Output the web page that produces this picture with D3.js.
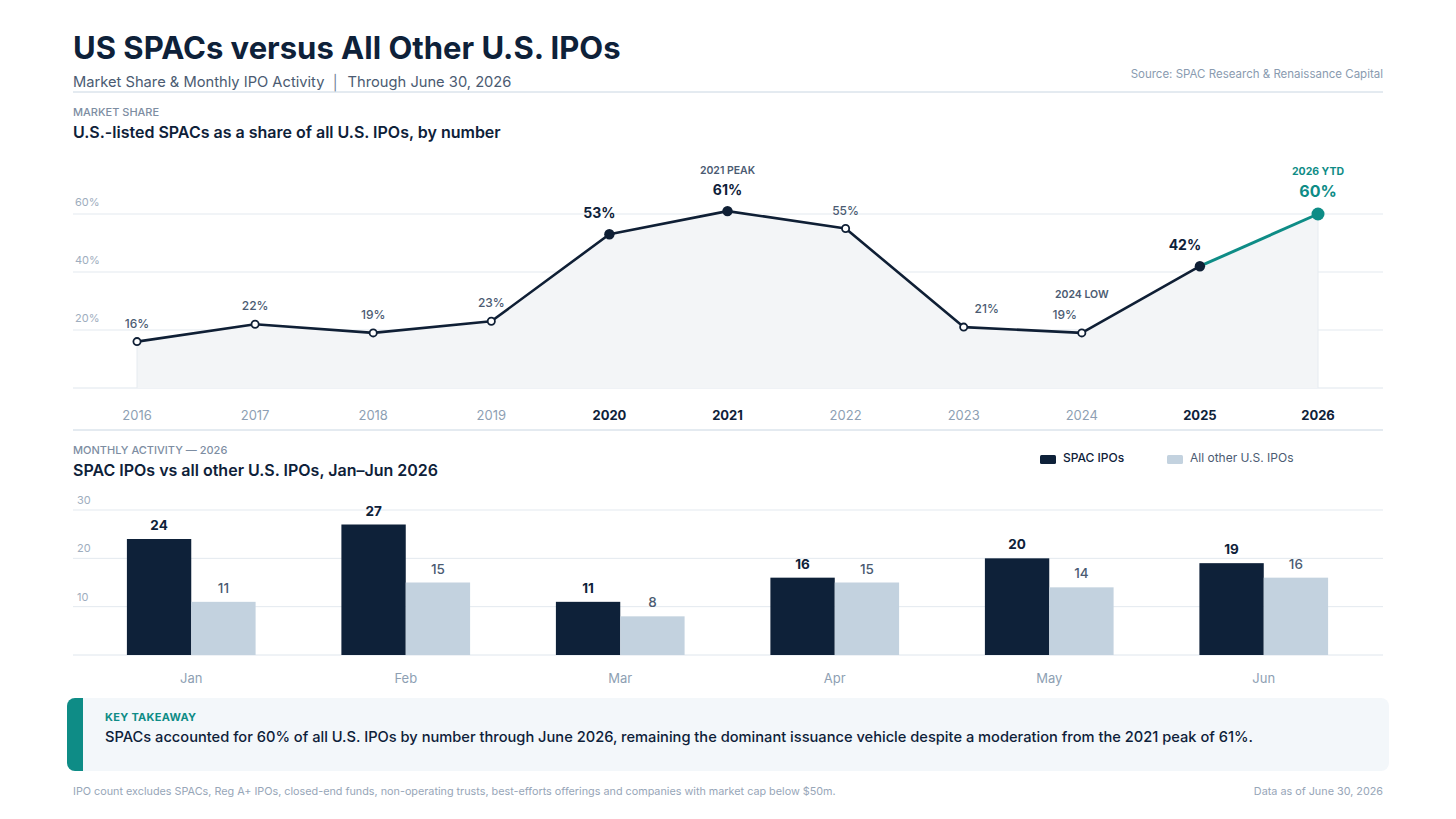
<!DOCTYPE html>
<html><head><meta charset="utf-8">
<script src="https://cdn.jsdelivr.net/npm/d3@7/dist/d3.min.js"></script>
<style>
body{margin:0;background:#fff;}
svg{display:block;font-family:Inter,"Noto Sans",sans-serif;}
</style></head>
<body><svg id="c" width="1456" height="819"></svg>
<script>
// ---- data ----
const years = ["2016","2017","2018","2019","2020","2021","2022","2023","2024","2025","2026"];
const sharePct = [16,22,19,23,53,61,55,21,19,42,60];
const highlightYears = ["2020","2021","2025","2026"];
const shareTicks = [0,20,40,60];

const months = ["Jan","Feb","Mar","Apr","May","Jun"];
const spacIPOs = [24,27,11,16,20,19];
const otherIPOs = [11,15,8,15,14,16];
const barTicks = [0,10,20,30];
const seriesNames = ["SPAC IPOs","All other U.S. IPOs"];

// label nudges (style, not data)
const labelDx = [0,0,0,0,-10,0,0,23,-17,-15,0];

const C = {navy:"#0e2139", line:"#0f1f35", light:"#c3d2df", teal:"#0e8c86",
  grid:"#e3e9ef", rule:"#c9d6e2", gray:"#8a9bb0", mid:"#4b5b72", fill:"#f3f5f7"};

const svg = d3.select("#c");
const L = 73, R = 1383;

// ---- header ----
svg.append("text").attr("x",L).attr("y",59).attr("font-size",31).attr("font-weight",700)
  .attr("fill",C.navy).text("US SPACs versus All Other U.S. IPOs");
const sub = svg.append("text").attr("x",L).attr("y",87).attr("font-size",14.7).attr("fill",C.mid);
sub.append("tspan").text("Market Share & Monthly IPO Activity");
sub.append("tspan").attr("dx",7).attr("fill","#6b7b90").text("│");
sub.append("tspan").attr("dx",7).text("Through June 30, 2026");
svg.append("text").attr("x",R).attr("y",78).attr("text-anchor","end").attr("font-size",11.5)
  .attr("fill",C.gray).text("Source: SPAC Research & Renaissance Capital");
svg.append("line").attr("x1",L).attr("x2",R).attr("y1",92).attr("y2",92).attr("stroke",C.rule);

// ---- section 1 ----
svg.append("text").attr("x",L).attr("y",116).attr("font-size",11).attr("font-weight",500)
  .attr("fill","#7d8da2").text("MARKET SHARE");
svg.append("text").attr("x",L).attr("y",138).attr("font-size",16).attr("font-weight",600)
  .attr("fill",C.navy).text("U.S.-listed SPACs as a share of all U.S. IPOs, by number");

const x1 = d3.scalePoint().domain(years).range([137,1318]);
const y1 = d3.scaleLinear().domain([0,60]).range([388,214]);

const g1 = svg.append("g");
g1.selectAll("line.grid").data(shareTicks).join("line")
  .attr("x1",L).attr("x2",R).attr("y1",d=>y1(d)).attr("y2",d=>y1(d))
  .attr("stroke",d=>d===0?"#dfe6ed":C.grid).attr("stroke-width",1);
g1.selectAll("text.tick").data(shareTicks.filter(d=>d>0)).join("text")
  .attr("x",75).attr("y",d=>y1(d)-8).attr("font-size",11).attr("fill","#9eadbe").text(d=>d+"%");

const pts = years.map((y,i)=>({y, v:sharePct[i], i}));
const area = d3.area().x(d=>x1(d.y)).y0(y1(0)).y1(d=>y1(d.v));
g1.append("path").datum(pts).attr("d",area).attr("fill",C.fill);
g1.append("line").attr("x1",x1("2016")).attr("x2",x1("2016")).attr("y1",y1(16)).attr("y2",y1(0)).attr("stroke","#e6ebf0");
g1.append("line").attr("x1",x1("2026")).attr("x2",x1("2026")).attr("y1",y1(60)).attr("y2",y1(0)).attr("stroke","#e6ebf0");

const lineGen = d3.line().x(d=>x1(d.y)).y(d=>y1(d.v));
g1.append("path").datum(pts.slice(0,10)).attr("d",lineGen).attr("fill","none")
  .attr("stroke",C.line).attr("stroke-width",2.6).attr("stroke-linejoin","round");
g1.append("path").datum(pts.slice(9)).attr("d",lineGen).attr("fill","none")
  .attr("stroke",C.teal).attr("stroke-width",3);

pts.forEach(d=>{
  const hl = highlightYears.includes(d.y);
  const last = d.y==="2026";
  g1.append("circle").attr("cx",x1(d.y)).attr("cy",y1(d.v))
    .attr("r", last?6.5:(hl?5.2:3.6))
    .attr("fill", last?C.teal:(hl?C.line:"#fff"))
    .attr("stroke", last?C.teal:C.line).attr("stroke-width", hl?0:1.8);
  const t = g1.append("text").attr("x",x1(d.y)+labelDx[d.i]).attr("text-anchor","middle");
  if(last){
    t.attr("y",y1(d.v)-17).attr("font-size",16).attr("font-weight",700).attr("fill",C.teal);
  } else if(hl){
    t.attr("y",y1(d.v)-16).attr("font-size",14).attr("font-weight",700).attr("fill",C.navy);
  } else {
    t.attr("y",y1(d.v)-14).attr("font-size",12).attr("font-weight",500).attr("fill",C.mid);
  }
  t.text(d.v+"%");
});
g1.append("text").attr("x",x1("2021")).attr("y",y1(61)-37).attr("text-anchor","middle")
  .attr("font-size",10.5).attr("font-weight",600).attr("fill",C.mid).text("2021 PEAK");
g1.append("text").attr("x",x1("2026")).attr("y",y1(60)-39).attr("text-anchor","middle")
  .attr("font-size",10.5).attr("font-weight",700).attr("fill",C.teal).text("2026 YTD");
g1.append("text").attr("x",x1("2024")).attr("y",y1(19)-35).attr("text-anchor","middle")
  .attr("font-size",10.5).attr("font-weight",600).attr("fill",C.mid).text("2024 LOW");

g1.selectAll("text.year").data(years).join("text")
  .attr("x",d=>x1(d)).attr("y",420).attr("text-anchor","middle").attr("font-size",13)
  .attr("font-weight",d=>highlightYears.includes(d)?700:400)
  .attr("fill",d=>highlightYears.includes(d)?C.navy:"#8e9fb3").text(d=>d);

svg.append("line").attr("x1",L).attr("x2",R).attr("y1",430).attr("y2",430).attr("stroke",C.rule);

// ---- section 2 ----
svg.append("text").attr("x",L).attr("y",454).attr("font-size",11).attr("font-weight",500)
  .attr("fill","#7d8da2").text("MONTHLY ACTIVITY — 2026");
svg.append("text").attr("x",L).attr("y",476).attr("font-size",16).attr("font-weight",600)
  .attr("fill",C.navy).text("SPAC IPOs vs all other U.S. IPOs, Jan–Jun 2026");

// legend
const lg = svg.append("g");
const legX = [1040,1167];
seriesNames.forEach((s,i)=>{
  lg.append("rect").attr("x",legX[i]).attr("y",455).attr("width",16).attr("height",9).attr("rx",1.5)
    .attr("fill",i===0?C.navy:C.light);
  lg.append("text").attr("x",legX[i]+23).attr("y",462).attr("font-size",12).attr("font-weight",i===0?500:400)
    .attr("fill",i===0?C.navy:C.mid).text(s);
});

const x2 = d3.scaleBand().domain(months).range([84,1371]).paddingInner(0.4).paddingOuter(0.2);
const xs = d3.scaleBand().domain(seriesNames).range([0,x2.bandwidth()]);
const y2 = d3.scaleLinear().domain([0,30]).range([655,510]);

const g2 = svg.append("g");
g2.selectAll("line.grid").data(barTicks).join("line")
  .attr("x1",L).attr("x2",R).attr("y1",d=>y2(d)).attr("y2",d=>y2(d))
  .attr("stroke",d=>d===0?"#dfe6ed":C.grid);
g2.selectAll("text.tick").data(barTicks.filter(d=>d>0)).join("text")
  .attr("x",77).attr("y",d=>y2(d)-6).attr("font-size",11).attr("fill","#9eadbe").text(d=>d);

const rows = months.map((m,i)=>({m, vals:[spacIPOs[i],otherIPOs[i]]}));
const grp = g2.selectAll("g.m").data(rows).join("g").attr("transform",d=>`translate(${x2(d.m)},0)`);
grp.selectAll("rect").data(d=>d.vals.map((v,j)=>({v,s:seriesNames[j],j}))).join("rect")
  .attr("x",d=>xs(d.s)).attr("width",xs.bandwidth()).attr("y",d=>y2(d.v)).attr("height",d=>y2(0)-y2(d.v))
  .attr("fill",d=>d.j===0?C.navy:C.light);
grp.selectAll("text").data(d=>d.vals.map((v,j)=>({v,s:seriesNames[j],j}))).join("text")
  .attr("x",d=>xs(d.s)+xs.bandwidth()/2).attr("y",d=>y2(d.v)-9).attr("text-anchor","middle")
  .attr("font-size",13.5).attr("font-weight",d=>d.j===0?700:500)
  .attr("fill",d=>d.j===0?C.navy:C.mid).text(d=>d.v);
g2.selectAll("text.month").data(months).join("text")
  .attr("x",d=>x2(d)+x2.bandwidth()/2).attr("y",683).attr("text-anchor","middle")
  .attr("font-size",13).attr("fill","#8e9fb3").text(d=>d);

// ---- takeaway ----
svg.append("rect").attr("x",67).attr("y",698).attr("width",1322).attr("height",73).attr("rx",8).attr("fill","#f3f7fa");
svg.append("path").attr("d","M75,698 h8 v73 h-8 a8,8 0 0 1 -8,-8 v-57 a8,8 0 0 1 8,-8 z").attr("fill",C.teal);
svg.append("text").attr("x",105).attr("y",721).attr("font-size",11).attr("font-weight",700)
  .attr("letter-spacing","0.3").attr("fill",C.teal).text("KEY TAKEAWAY");
svg.append("text").attr("x",105).attr("y",742).attr("font-size",14.65).attr("font-weight",500)
  .attr("fill",C.navy).text("SPACs accounted for 60% of all U.S. IPOs by number through June 2026, remaining the dominant issuance vehicle despite a moderation from the 2021 peak of 61%.");

// ---- footer ----
svg.append("text").attr("x",L).attr("y",795).attr("font-size",10.8).attr("fill","#97a6b8")
  .text("IPO count excludes SPACs, Reg A+ IPOs, closed-end funds, non-operating trusts, best-efforts offerings and companies with market cap below $50m.");
svg.append("text").attr("x",R).attr("y",795).attr("text-anchor","end").attr("font-size",10.8).attr("fill","#97a6b8")
  .text("Data as of June 30, 2026");
</script></body></html>
